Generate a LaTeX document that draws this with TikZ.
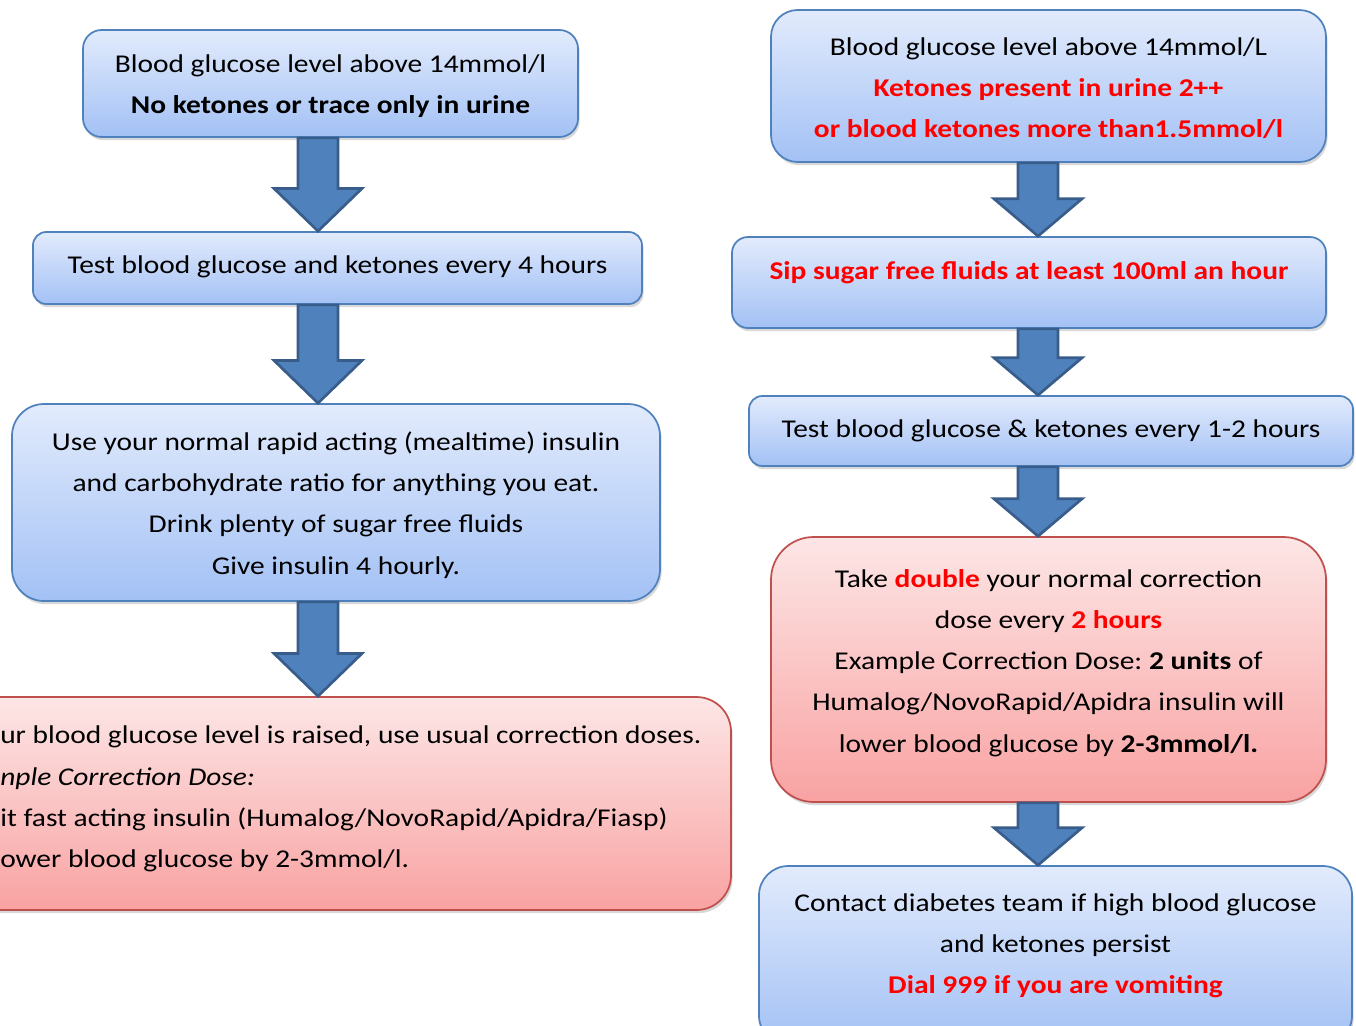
\documentclass[tikz,border=0pt]{standalone}
\usepackage{fontspec}
\setmainfont{Carlito}[FakeStretch=1.15]
\frenchspacing
\usetikzlibrary{calc,shadows}
\definecolor{bluetop}{HTML}{E2EBFC}
\definecolor{bluebot}{HTML}{A3C1F5}
\definecolor{blueedge}{HTML}{4F81BD}
\definecolor{redtop}{HTML}{FDE6E6}
\definecolor{redbot}{HTML}{F9A2A2}
\definecolor{rededge}{HTML}{C0504D}
\definecolor{arrfill}{HTML}{4F81BD}
\definecolor{arredge}{HTML}{385D8A}
\definecolor{alert}{HTML}{FF0000}
\tikzset{
  boxbase/.style={draw, line width=1.3pt, inner sep=0pt,
    drop shadow={shadow xshift=1.2pt, shadow yshift=-2.4pt, opacity=0.3}},
  bluebox/.style={boxbase, draw=blueedge, top color=bluetop, bottom color=bluebot},
  redbox/.style={boxbase, draw=rededge, top color=redtop, bottom color=redbot},
  txt/.style={align=center, inner sep=0pt, font=\fontsize{19.2}{30.9}\selectfont},
  blockarr/.style={fill=arrfill, draw=arredge, line width=2pt, line join=miter},
}
\newcommand\boxnode[7]{%
  \node[#2, rounded corners=#7, minimum width={(#5-#3)*0.75pt}, minimum height={(#6-#4)*0.75pt}]
    (#1) at ({(#3+#5)/2},{-(#4+#6)/2}) {};}
% #1 x-coordinate name, #2 from node, #3 to node, #4 head length (pt)
\newcommand\blockarrow[4]{%
  \draw[blockarr] let \p1=(#1 |- #2.south), \p2=(#1 |- #3.north) in
    (\x1-15pt,\y1) -- (\x1+15pt,\y1) -- (\x1+15pt,\y2+#4) -- (\x1+33pt,\y2+#4)
    -- (\x1,\y2) -- (\x1-33pt,\y2+#4) -- (\x1-15pt,\y2+#4) -- cycle;}
\begin{document}
\begin{tikzpicture}[x=0.75pt,y=0.75pt]
\clip (0,0) rectangle (1356,-1025);
\fill[white] (0,0) rectangle (1356,-1025);
\coordinate (lx) at (318,0);
\coordinate (rx) at (1038,0);
% left column
\boxnode{b1}{bluebox}{83}{30}{578}{137}{14pt}
\boxnode{b2}{bluebox}{33}{232}{642}{304}{10pt}
\boxnode{b3}{bluebox}{12}{404}{660}{601}{24pt}
\boxnode{b4}{redbox}{-60}{697}{731}{910}{26pt}
% right column
\boxnode{r1}{bluebox}{771}{10}{1326}{162}{20pt}
\boxnode{r2}{bluebox}{732}{237}{1326}{328}{12pt}
\boxnode{r3}{bluebox}{749}{396}{1353}{466}{10pt}
\boxnode{r4}{redbox}{771}{537}{1326}{802}{32pt}
\boxnode{r5}{bluebox}{759}{866}{1352}{1045}{22pt}
% arrows
\blockarrow{lx}{b1}{b2}{32pt}
\blockarrow{lx}{b2}{b3}{32pt}
\blockarrow{lx}{b3}{b4}{32pt}
\blockarrow{rx}{r1}{r2}{28pt}
\blockarrow{rx}{r2}{r3}{28pt}
\blockarrow{rx}{r3}{r4}{28pt}
\blockarrow{rx}{r4}{r5}{28pt}
% texts
\node[txt] (t1) at (330.5,-86) {Blood glucose level above 14mmol/l\\\textbf{No ketones or trace only in urine}};
\node[txt] (t2) at (337.5,-267) {Test blood glucose and ketones every 4 hours};
\node[txt] (t3) at (336,-505) {Use your normal rapid acting (mealtime) insulin\\and carbohydrate ratio for anything you eat.\\Drink plenty of sugar free fluids\\Give insulin 4 hourly.};
\node[txt, align=left, anchor=west] (t4) at (0,-799) {ur blood glucose level is raised, use usual correction doses.\\\textit{nple Correction Dose:}\\it fast acting insulin (Humalog/NovoRapid/Apidra/Fiasp)\\ower blood glucose by 2-3mmol/l.};
\node[txt] (s1) at (1048.5,-88) {Blood glucose level above 14mmol/L\\\textcolor{alert}{\textbf{Ketones present in urine 2++}}\\\textcolor{alert}{\textbf{or blood ketones more than1.5mmol/l}}};
\node[txt] (s2) at (1029,-273) {\textcolor{alert}{\textbf{Sip sugar free fluids at least 100ml an hour}}};
\node[txt] (s3) at (1051,-431) {Test blood glucose \& ketones every 1-2 hours};
\node[txt] (s4) at (1048.5,-663) {Take \textcolor{alert}{\textbf{double}} your normal correction\\dose every \textcolor{alert}{\textbf{2 hours}}\\Example Correction Dose: \textbf{2 units} of\\Humalog/NovoRapid/Apidra insulin will\\lower blood glucose by \textbf{2-3mmol/l.}};
\node[txt] (s5) at (1055.5,-946) {Contact diabetes team if high blood glucose\\and ketones persist\\\textcolor{alert}{\textbf{Dial 999 if you are vomiting}}};
\end{tikzpicture}
\end{document}
